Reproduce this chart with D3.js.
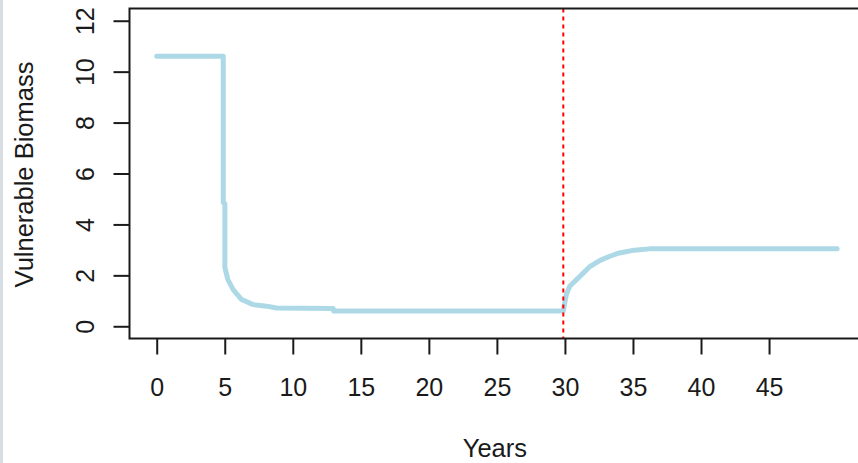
<!DOCTYPE html>
<html>
<head>
<meta charset="utf-8">
<script src="https://cdn.jsdelivr.net/npm/d3@7"></script>
<style>
  body { margin: 0; background: #fff; }
  svg { display: block; }
  text { font-family: "Liberation Sans", Arial, sans-serif; fill: #1a1a1a; }
</style>
</head>
<body>
<div id="chart"></div>
<script>
// series (years, vulnerable biomass)
const years = [0, 4.89, 4.89, 5.01, 5.01, 5.23, 5.62, 6.24, 7.09, 8.08, 8.81, 12.97, 13.0,
               29.88, 30.1, 30.35, 31.1, 31.8, 32.55, 33.3, 34.0, 35.1, 36.2, 50];
const biomass = [10.6, 10.6, 4.86, 4.82, 2.3, 1.83, 1.44, 1.05, 0.85, 0.79, 0.72, 0.7, 0.6,
                 0.6, 1.25, 1.57, 1.96, 2.33, 2.58, 2.75, 2.88, 2.99, 3.04, 3.04];
const xTicks = [0, 5, 10, 15, 20, 25, 30, 35, 40, 45];
const yTicks = [0, 2, 4, 6, 8, 10, 12];
const closureYear = 29.88;

const totalWidth = 858, totalHeight = 463;
const plot = { left: 129.5, right: 864.3, top: 8.5, bottom: 338.5 };

const svg = d3.select("#chart").append("svg")
    .attr("width", totalWidth)
    .attr("height", totalHeight);

// light strip on the left edge
svg.append("rect")
    .attr("x", 0).attr("y", 0)
    .attr("width", 3).attr("height", totalHeight)
    .attr("fill", "#d6dde3");

const xScale = d3.scaleLinear().domain([-2, 52]).range([plot.left, plot.right]);
const yScale = d3.scaleLinear().domain([-0.48, 12.48]).range([plot.bottom, plot.top]);

const data = years.map((y, i) => ({ year: y, value: biomass[i] }));

// --- line ---
const line = d3.line()
    .x(d => xScale(d.year))
    .y(d => yScale(d.value));

svg.append("path")
    .datum(data)
    .attr("d", line)
    .attr("fill", "none")
    .attr("stroke", "#add8e6")
    .attr("stroke-width", 5)
    .attr("stroke-linejoin", "round")
    .attr("stroke-linecap", "round");

// --- closure line ---
svg.append("line")
    .attr("x1", xScale(closureYear)).attr("x2", xScale(closureYear))
    .attr("y1", plot.top).attr("y2", plot.bottom)
    .attr("stroke", "#ff0000")
    .attr("stroke-width", 2)
    .attr("stroke-dasharray", "4,4");

// --- axes ---
const xAxis = svg.append("g")
    .attr("transform", `translate(0,${plot.bottom})`)
    .call(d3.axisBottom(xScale).tickValues(xTicks).tickSize(16).tickSizeOuter(0));
xAxis.select(".domain").remove();
xAxis.selectAll("line").attr("stroke", "#1a1a1a").attr("stroke-width", 2);
xAxis.selectAll("text")
    .attr("dy", null)
    .attr("y", 57)
    .style("font-size", "25px")
    .attr("fill", "#1a1a1a");

const yAxis = svg.append("g")
    .attr("transform", `translate(${plot.left},0)`)
    .call(d3.axisLeft(yScale).tickValues(yTicks).tickSize(16).tickSizeOuter(0));
yAxis.select(".domain").remove();
yAxis.selectAll("line").attr("stroke", "#1a1a1a").attr("stroke-width", 2);
yAxis.selectAll("text")
    .attr("dy", null)
    .attr("x", 0)
    .attr("y", -36)
    .attr("transform", "rotate(-90)")
    .attr("text-anchor", "middle")
    .style("font-size", "25px")
    .attr("fill", "#1a1a1a");

// box
svg.append("rect")
    .attr("x", plot.left).attr("y", plot.top)
    .attr("width", plot.right - plot.left)
    .attr("height", plot.bottom - plot.top)
    .attr("fill", "none")
    .attr("stroke", "#1a1a1a")
    .attr("stroke-width", 2);

// --- axis titles ---
svg.append("text")
    .attr("x", (plot.left + plot.right) / 2 - 2)
    .attr("y", 457)
    .attr("text-anchor", "middle")
    .style("font-size", "25.5px")
    .text("Years");

svg.append("text")
    .attr("transform", `translate(33,${(plot.top + plot.bottom) / 2 + 1}) rotate(-90)`)
    .attr("text-anchor", "middle")
    .style("font-size", "25.5px")
    .text("Vulnerable Biomass");
</script>
</body>
</html>
